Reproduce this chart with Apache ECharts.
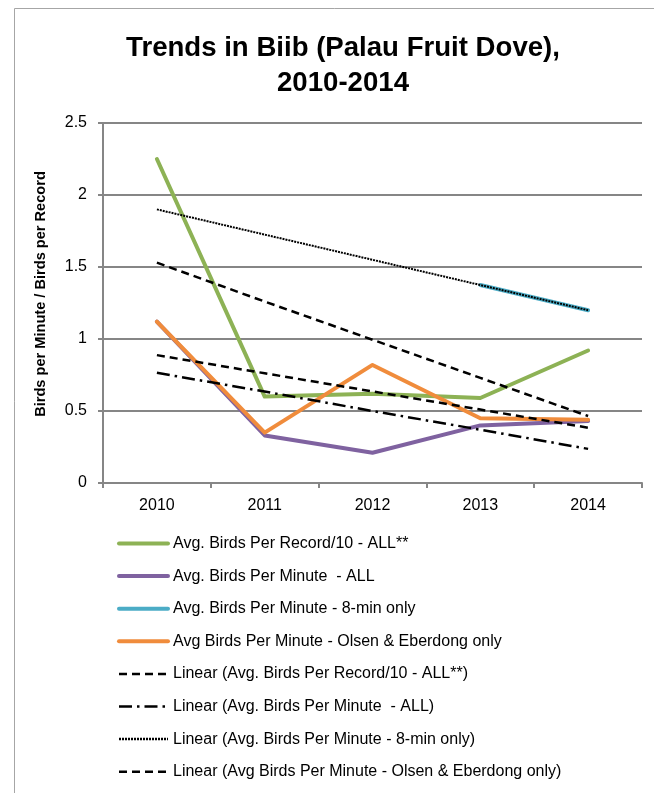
<!DOCTYPE html>
<html>
<head>
<meta charset="utf-8">
<script src="https://cdn.jsdelivr.net/npm/echarts@6/dist/echarts.min.js"></script>
<style>html,body{margin:0;padding:0;background:#fff}#c{width:654px;height:793px}</style>
</head>
<body>
<div id="c"></div>
<script>
var years = ['2010', '2011', '2012', '2013', '2014'];
var yTicks = [0, 0.5, 1, 1.5, 2, 2.5];
var perRecordAll = [2.25, 0.60, 0.62, 0.59, 0.92];
var perMinuteAll = [1.12, 0.33, 0.21, 0.40, 0.43];
var perMinute8 = [null, null, null, 1.375, 1.20];
var perMinuteOE = [1.12, 0.35, 0.82, 0.45, 0.44];
var trendRecordAll = [1.53, 1.26, 0.995, 0.73, 0.465];
var trendMinuteAll = [0.765, 0.635, 0.50, 0.37, 0.237];
var trendMinute8 = [1.90, 1.725, 1.55, 1.375, 1.20];
var trendMinuteOE = [0.888, 0.762, 0.636, 0.51, 0.384];

var names = [
  'Avg. Birds Per Record/10 - ALL**',
  'Avg. Birds Per Minute  - ALL',
  'Avg. Birds Per Minute - 8-min only',
  'Avg Birds Per Minute - Olsen & Eberdong only',
  'Linear (Avg. Birds Per Record/10 - ALL**)',
  'Linear (Avg. Birds Per Minute  - ALL)',
  'Linear (Avg. Birds Per Minute - 8-min only)',
  'Linear (Avg Birds Per Minute - Olsen & Eberdong only)'
];

function dataLine(name, data, color) {
  return { name: name, type: 'line', data: data, symbol: 'none', connectNulls: false,
    itemStyle: { color: color },
    lineStyle: { color: color, width: 4, cap: 'round', join: 'round' }, animation: false };
}
function trendLine(name, data, dash, width) {
  return { name: name, type: 'line', data: data, symbol: 'none',
    itemStyle: { color: '#000' },
    lineStyle: { color: '#000', width: width, type: dash }, animation: false };
}

var legendData = names.map(function (n, i) {
  return { name: n, lineStyle: { width: i < 4 ? 4 : 2.5, cap: i < 4 ? 'round' : 'butt' } };
});

var chart = echarts.init(document.getElementById('c'), null, { renderer: 'canvas' });
chart.setOption({
  backgroundColor: '#fff',
  animation: false,
  title: {
    text: 'Trends in Biib (Palau Fruit Dove),\n2010-2014',
    left: 338, textAlign: 'center', top: 26,
    textStyle: { fontFamily: 'Liberation Sans, Arial, sans-serif', fontWeight: 'bold', fontSize: 27.6, lineHeight: 35, color: '#000' }
  },
  graphic: [{
    type: 'rect', silent: true,
    shape: { x: 14.5, y: 8.5, width: 700, height: 900 },
    style: { fill: 'none', stroke: '#a6a6a6', lineWidth: 1 }
  }],
  grid: { left: 103, top: 123, width: 539, height: 360, containLabel: false },
  xAxis: {
    type: 'category', data: years, boundaryGap: true,
    axisLine: { lineStyle: { color: '#868686', width: 2 } },
    axisTick: { show: true, length: 5, alignWithLabel: false, lineStyle: { color: '#868686', width: 2 } },
    axisLabel: { color: '#000', fontSize: 16, fontFamily: 'Liberation Sans, Arial, sans-serif', margin: 15 },
    splitLine: { show: false }
  },
  yAxis: {
    type: 'value', min: yTicks[0], max: yTicks[yTicks.length - 1], interval: 0.5,
    name: 'Birds per Minute / Birds per Record', nameLocation: 'middle', nameGap: 55, nameRotate: 90,
    nameTextStyle: { color: '#000', fontWeight: 'bold', fontSize: 14.6, fontFamily: 'Liberation Sans, Arial, sans-serif', padding: [0, 0, 0, 18] },
    axisLine: { show: true, lineStyle: { color: '#868686', width: 2 } },
    axisTick: { show: true, length: 5, lineStyle: { color: '#868686', width: 2 } },
    axisLabel: { color: '#000', fontSize: 16, fontFamily: 'Liberation Sans, Arial, sans-serif', margin: 16 },
    splitLine: { show: true, lineStyle: { color: '#868686', width: 2 } }
  },
  legend: {
    orient: 'vertical', left: 117, top: 535.5, padding: 0, itemWidth: 49, itemHeight: 14, itemGap: 16.6,
    height: 260,
    data: legendData,
    itemStyle: { opacity: 0 },
    textStyle: { color: '#000', fontSize: 16, lineHeight: 15, fontFamily: 'Liberation Sans, Arial, sans-serif' }
  },
  series: [
    dataLine(names[0], perRecordAll, '#8DB255'),
    dataLine(names[1], perMinuteAll, '#7F62A0'),
    dataLine(names[2], perMinute8, '#4BACC6'),
    dataLine(names[3], perMinuteOE, '#F08C3C'),
    trendLine(names[4], trendRecordAll, [8, 5], 2.5),
    trendLine(names[5], trendMinuteAll, [13, 5, 2.5, 5], 2.5),
    trendLine(names[6], trendMinute8, [2, 1], 2),
    trendLine(names[7], trendMinuteOE, [8, 5], 2.5)
  ]
});
</script>
</body>
</html>
